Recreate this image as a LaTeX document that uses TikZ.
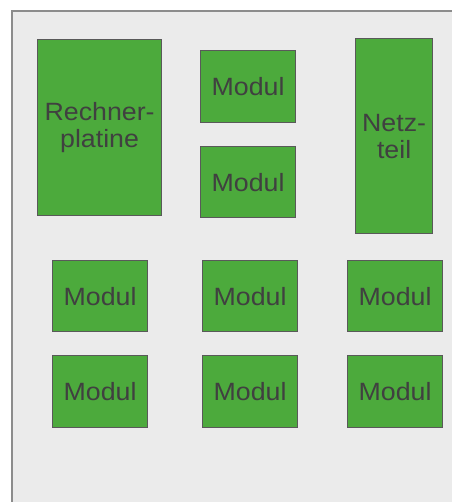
\documentclass[tikz,border=0pt]{standalone}
\usepackage{fontspec}
\setmainfont[FakeStretch=1.07]{Liberation Sans}
\begin{document}
\begin{tikzpicture}[x=1pt,y=-1pt,
  box/.style={draw=black!65,line width=1.2pt,fill=boxgreen,text=black!75,align=center,
    font=\fontsize{25}{27}\selectfont,inner sep=0pt,anchor=north west},
]
\definecolor{boxgreen}{RGB}{76,170,60}
\definecolor{bg}{RGB}{235,235,235}
\useasboundingbox (0,0) rectangle (452,502);
\fill[white] (0,0) rectangle (452,502);
\fill[bg] (12,11) rectangle (452,502);
\draw[black!45,line width=2pt] (12,502) -- (12,11) -- (452,11);
\node[box,minimum width=124pt,minimum height=176pt] (rp) at (37,39) {Rechner-\\platine};
\node[box,minimum width=95pt,minimum height=72pt] (m1) at (200,50) {Modul};
\node[box,minimum width=95pt,minimum height=71pt] (m2) at (200,146) {Modul};
\node[box,minimum width=77pt,minimum height=195pt] (nt) at (355,38) {Netz-\\teil};
\node[box,minimum width=95pt,minimum height=71pt] (m3) at (52,260) {Modul};
\node[box,minimum width=95pt,minimum height=71pt] (m4) at (202,260) {Modul};
\node[box,minimum width=95pt,minimum height=71pt] (m5) at (347,260) {Modul};
\node[box,minimum width=95pt,minimum height=72pt] (m6) at (52,355) {Modul};
\node[box,minimum width=95pt,minimum height=72pt] (m7) at (202,355) {Modul};
\node[box,minimum width=95pt,minimum height=72pt] (m8) at (347,355) {Modul};
\end{tikzpicture}
\end{document}
